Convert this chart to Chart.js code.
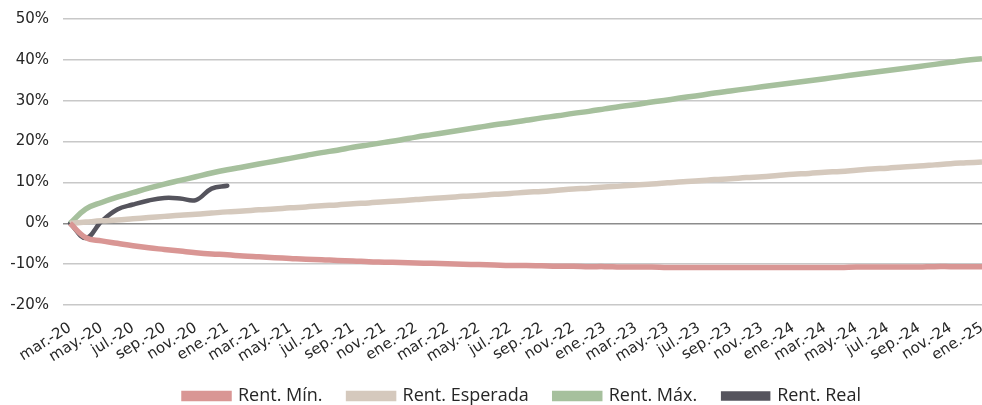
<!DOCTYPE html>
<html>
<head>
<meta charset="utf-8">
<script src="https://cdn.jsdelivr.net/npm/chart.js@4/dist/chart.umd.min.js"></script>
<style>
  html, body { margin: 0; padding: 0; background: #fff; }
  #wrap { width: 982px; height: 405px; }
</style>
</head>
<body>
<div id="wrap"><canvas id="rentChart" width="982" height="405"></canvas></div>
<script>
const months = [
  'mar.-20', 'abr.-20', 'may.-20', 'jun.-20', 'jul.-20', 'ago.-20', 'sep.-20', 'oct.-20', 'nov.-20', 'dic.-20',
  'ene.-21', 'feb.-21', 'mar.-21', 'abr.-21', 'may.-21', 'jun.-21', 'jul.-21', 'ago.-21', 'sep.-21', 'oct.-21', 'nov.-21', 'dic.-21',
  'ene.-22', 'feb.-22', 'mar.-22', 'abr.-22', 'may.-22', 'jun.-22', 'jul.-22', 'ago.-22', 'sep.-22', 'oct.-22', 'nov.-22', 'dic.-22',
  'ene.-23', 'feb.-23', 'mar.-23', 'abr.-23', 'may.-23', 'jun.-23', 'jul.-23', 'ago.-23', 'sep.-23', 'oct.-23', 'nov.-23', 'dic.-23',
  'ene.-24', 'feb.-24', 'mar.-24', 'abr.-24', 'may.-24', 'jun.-24', 'jul.-24', 'ago.-24', 'sep.-24', 'oct.-24', 'nov.-24', 'dic.-24',
  'ene.-25'
];

// values in %
const rentMin = [
  0, -3.5, -4.3, -4.9, -5.5, -6.0, -6.4, -6.8, -7.2, -7.5,
  -7.7, -8.0, -8.2, -8.4, -8.6, -8.8, -8.9, -9.1, -9.2, -9.4, -9.5, -9.6,
  -9.7, -9.8, -9.9, -10.0, -10.1, -10.2, -10.3, -10.3, -10.4, -10.5, -10.5, -10.6,
  -10.6, -10.7, -10.7, -10.7, -10.8, -10.8, -10.8, -10.8, -10.8, -10.8, -10.8, -10.8,
  -10.8, -10.8, -10.8, -10.8, -10.7, -10.7, -10.7, -10.7, -10.7, -10.6, -10.6, -10.6,
  -10.6
];
const rentEsperada = [
  0, 0.3, 0.6, 0.8, 1.1, 1.4, 1.7, 2.0, 2.2, 2.5,
  2.8, 3.0, 3.3, 3.5, 3.8, 4.0, 4.3, 4.5, 4.8, 5.0, 5.3, 5.5,
  5.8, 6.1, 6.3, 6.6, 6.8, 7.1, 7.3, 7.6, 7.8, 8.1, 8.4, 8.6,
  8.9, 9.1, 9.4, 9.6, 9.9, 10.2, 10.4, 10.7, 10.9, 11.2, 11.4, 11.7,
  12.0, 12.2, 12.5, 12.7, 13.0, 13.3, 13.5, 13.8, 14.0, 14.3, 14.6, 14.8,
  15.0
];
const rentMax = [
  0, 3.5, 5.1, 6.4, 7.5, 8.6, 9.6, 10.5, 11.4, 12.3,
  13.1, 13.8, 14.5, 15.2, 15.9, 16.6, 17.3, 17.9, 18.6, 19.2, 19.8, 20.4,
  21.1, 21.7, 22.3, 22.9, 23.5, 24.1, 24.6, 25.2, 25.8, 26.3, 26.9, 27.4,
  28.0, 28.6, 29.1, 29.7, 30.2, 30.8, 31.3, 31.9, 32.4, 32.9, 33.4, 33.9,
  34.4, 34.9, 35.4, 35.9, 36.4, 36.9, 37.4, 37.9, 38.4, 38.9, 39.4, 39.9,
  40.3
];
const rentReal = [0, -3.6, 0.5, 3.4, 4.6, 5.6, 6.2, 6.1, 5.7, 8.5, 9.2];

const yTicks = [-20, -10, 0, 10, 20, 30, 40, 50];

const toPoints = arr => arr.map((v, i) => ({ x: i, y: v }));

Chart.defaults.font.family = 'DejaVu Sans';
Chart.defaults.color = '#262626';

const ctx = document.getElementById('rentChart').getContext('2d');
new Chart(ctx, {
  type: 'line',
  data: {
    datasets: [
      {
        label: 'Rent. Mín.',
        data: toPoints(rentMin),
        borderColor: '#D99694',
        backgroundColor: '#D99694',
        borderWidth: 5.5,
        tension: 0.4
      },
      {
        label: 'Rent. Esperada',
        data: toPoints(rentEsperada),
        borderColor: '#D5C9BD',
        backgroundColor: '#D5C9BD',
        borderWidth: 5.5,
        tension: 0.4
      },
      {
        label: 'Rent. Máx.',
        data: toPoints(rentMax),
        borderColor: '#A6C09D',
        backgroundColor: '#A6C09D',
        borderWidth: 5.5,
        tension: 0.4
      },
      {
        label: 'Rent. Real',
        data: toPoints(rentReal),
        borderColor: '#55545D',
        backgroundColor: '#55545D',
        borderWidth: 4.5,
        borderCapStyle: 'round',
        tension: 0.4
      }
    ]
  },
  options: {
    responsive: false,
    animation: false,
    layout: { padding: { top: 19, right: 0, left: 0, bottom: -10 } },
    elements: { point: { radius: 0 } },
    scales: {
      x: {
        type: 'linear',
        min: -0.45,
        max: months.length - 1,
        grid: { display: false },
        border: { display: false },
        afterBuildTicks: scale => {
          scale.ticks = months.map((m, i) => ({ value: i })).filter(t => t.value % 2 === 0);
        },
        afterFit: scale => {
          scale.paddingRight = 0;
          scale.paddingLeft = 0;
          scale.height = scale.height - 11;
        },
        ticks: {
          autoSkip: false,
          minRotation: 32,
          maxRotation: 32,
          padding: 6,
          font: { size: 15 },
          callback: value => months[value]
        }
      },
      y: {
        min: -20,
        max: 50,
        afterBuildTicks: scale => {
          scale.ticks = yTicks.map(v => ({ value: v }));
        },
        afterFit: scale => {
          scale.width = 63;
          scale.paddingTop = 0;
          scale.paddingBottom = 0;
        },
        border: { display: false },
        grid: {
          drawTicks: false,
          lineWidth: 1.5,
          color: c => (c.tick && c.tick.value === 0) ? '#8C8C8C' : '#C8C8C8'
        },
        ticks: {
          padding: 14,
          font: { size: 15 },
          callback: v => v + '%'
        }
      }
    },
    plugins: {
      tooltip: { enabled: false },
      legend: {
        position: 'bottom',
        fullSize: false,
        labels: {
          boxWidth: 45,
          boxHeight: 5,
          padding: 26,
          color: '#262626',
          font: { family: 'Open Sans', size: 18 }
        }
      }
    }
  }
});
</script>
</body>
</html>
